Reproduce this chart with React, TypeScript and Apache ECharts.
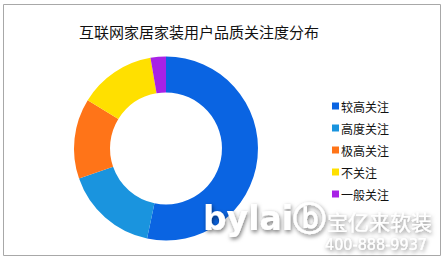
import React, { useEffect, useRef } from "react";
import * as echarts from "echarts";

const categories = ["较高关注", "高度关注", "极高关注", "不关注", "一般关注"];
const shares = [53.3, 16.4, 14.1, 13.5, 2.7];
const colors = ["#0A64E2", "#1A94DE", "#FF7418", "#FFE000", "#A822E6"];

const CJK = '"Noto Sans CJK SC", "Microsoft YaHei", sans-serif';

export default function App() {
  const ref = useRef<HTMLDivElement>(null);

  useEffect(() => {
    document.body.style.margin = "0";
    const chart = echarts.init(ref.current!, null, { renderer: "svg" });
    const shadow = {
      textShadowColor: "rgba(0,0,0,0.55)",
      textShadowBlur: 4,
      textShadowOffsetX: 1,
      textShadowOffsetY: 2,
    };
    chart.setOption({
      animation: false,
      backgroundColor: "#ffffff",
      color: colors,
      title: {
        text: "互联网家居家装用户品质关注度分布",
        left: 74,
        top: 19,
        textStyle: { fontFamily: CJK, fontSize: 15, fontWeight: "normal", color: "#111" },
      },
      legend: {
        orient: "vertical",
        left: 327,
        top: 95,
        icon: "rect",
        itemWidth: 7,
        itemHeight: 7,
        itemGap: 10,
        textStyle: { fontFamily: CJK, fontSize: 12, color: "#111", padding: [0, 0, 0, -3] },
        data: categories,
      },
      graphic: [
        {
          type: "rect",
          z: -1,
          shape: { x: 3.5, y: 4.5, width: 437, height: 251 },
          style: { fill: "none", stroke: "#a8a8a8", lineWidth: 1 },
        },
        {
          type: "text",
          z: 100,
          left: 203,
          top: 202,
          style: {
            text: "bylaiⓑ",
            fontFamily: "DejaVu Sans, sans-serif",
            fontWeight: "bold",
            fontSize: 33,
            fill: "#ffffff",
            ...shadow,
          },
        },
        {
          type: "text",
          z: 100,
          left: 327,
          top: 210,
          style: {
            text: "宝亿来软装",
            fontFamily: CJK,
            fontSize: 21,
            fill: "#ffffff",
            ...shadow,
          },
        },
        {
          type: "text",
          z: 100,
          left: 325,
          top: 236,
          style: {
            text: "400-888-9937",
            fontFamily: "DejaVu Sans Condensed, sans-serif",
            fontSize: 16,
            fill: "#ffffff",
            ...shadow,
          },
        },
      ],
      series: [
        {
          type: "pie",
          center: [166, 148.5],
          radius: [56, 92],
          startAngle: 90,
          clockwise: true,
          label: { show: false },
          labelLine: { show: false },
          itemStyle: { borderWidth: 0 },
          emphasis: { disabled: true },
          data: categories.map((name, i) => ({ name, value: shares[i] })),
        },
      ],
    });
    return () => chart.dispose();
  }, []);

  return <div ref={ref} style={{ width: 445, height: 261 }} />;
}
